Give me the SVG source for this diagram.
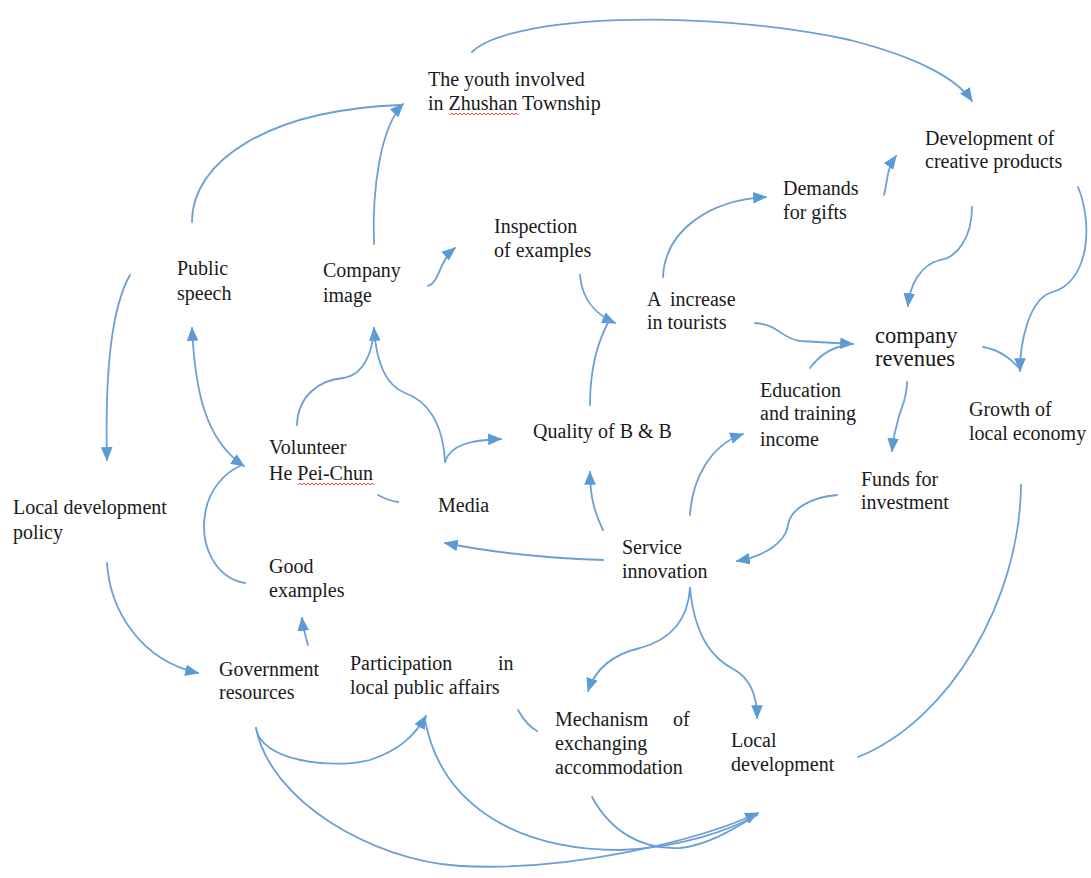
<svg xmlns="http://www.w3.org/2000/svg" width="1091" height="878" viewBox="0 0 1091 878">
  <style>
    .lbl { font-family: "Liberation Serif", "Times New Roman", serif; font-size: 20px; fill: #1a1a1a; }
    .big { font-size: 22.5px; }
    .edge { fill: none; stroke: #6b9fd6; stroke-width: 1.8; stroke-linecap: round; }
    .arr { marker-end: url(#ah); }
    .squig { fill: none; stroke: #e03030; stroke-width: 0.9; }
  </style>
  <defs>
    <marker id="ah" viewBox="0 0 12 10" refX="11" refY="5" markerWidth="14" markerHeight="12" markerUnits="userSpaceOnUse" orient="auto-start-reverse">
      <path d="M0,0 L12,5 L0,10 z" fill="#5b9bd5"/>
    </marker>
  </defs>
  <rect width="1091" height="878" fill="#ffffff"/>

  <!-- connectors -->
  <g id="connectors">
    <!-- top row -->
    <path class="edge" d="M192,222 C192,160 270,110 400,105"/>
    <path class="edge arr" d="M374,244 C372,190 380,128 403,104"/>
    <path class="edge arr" d="M472,52 C510,15 700,8 850,40 C920,58 958,80 972,101"/>
    <path class="edge arr" d="M884,195 C888,180 886,170 896,156"/>
    <path class="edge arr" d="M663,277 C665,230 710,200 766,197"/>
    <path class="edge arr" d="M580,275 C582,300 595,314 615,323"/>
    <path class="edge" d="M590,405 C590,370 598,340 610,319"/>
    <path class="edge arr" d="M428,286 C440,282 438,262 455,248"/>
    <!-- revenues cluster -->
    <path class="edge arr" d="M755,323 C780,325 780,338 800,341 L853,344"/>
    <path class="edge" d="M810,368 C820,355 830,348 850,344"/>
    <path class="edge arr" d="M972,207 C972,240 955,258 940,260 C920,265 910,285 908,306"/>
    <path class="edge arr" d="M1078,187 C1092,220 1092,282 1050,293 C1030,300 1020,340 1020,371"/>
    <path class="edge" d="M983,347 C1000,350 1012,360 1019,368"/>
    <path class="edge arr" d="M907,382 C907,400 900,410 898,420 C895,430 893,440 892,451"/>
    <path class="edge" d="M1021,485 C1020,600 950,720 858,757"/>
    <path class="edge arr" d="M837,495 C810,497 790,510 788,525 C785,545 760,557 737,561"/>
    <path class="edge arr" d="M690,515 C692,480 710,445 743,434"/>
    <!-- service innovation -->
    <path class="edge arr" d="M603,530 C596,515 590,500 590,472"/>
    <path class="edge arr" d="M603,560 C540,558 490,552 445,543"/>
    <path class="edge arr" d="M445,462 C450,445 470,440 501,439"/>
    <path class="edge arr" d="M445,462 C443,420 425,400 405,393 C385,385 376,360 374,328"/>
    <path class="edge" d="M297,425 C298,395 320,380 343,378 C365,375 372,350 374,332"/>
    <path class="edge arr" style="marker-start:url(#ah)" d="M192,328 C195,390 205,440 244,466"/>
    <path class="edge" d="M245,583 C215,578 200,545 205,515 C208,490 225,472 242,465"/>
    <path class="edge" d="M378,495 C385,499 391,501 398,502"/>
    <!-- left side -->
    <path class="edge arr" d="M130,275 C110,310 105,380 107,460"/>
    <path class="edge arr" d="M107,563 C110,610 140,660 198,673"/>
    <path class="edge arr" d="M308,645 C305,635 303,628 302,618"/>
    <!-- bottom -->
    <path class="edge arr" d="M256,728 C260,760 330,770 370,760 C400,750 415,735 426,716"/>
    <path class="edge arr" d="M256,728 C270,800 370,860 460,866 C570,872 700,840 758,813"/>
    <path class="edge" d="M425,720 C440,800 510,850 620,850 C680,848 730,830 757,815"/>
    <path class="edge" d="M592,797 C610,830 640,850 680,848 C710,845 740,825 757,815"/>
    <path class="edge" d="M518,710 C523,719 528,726 537,731"/>
    <path class="edge arr" d="M690,588 C688,620 670,640 640,648 C610,655 595,670 588,691"/>
    <path class="edge arr" d="M690,588 C695,640 715,660 735,670 C752,680 757,700 757,718"/>
  </g>

  <!-- nodes -->
  <g id="youth">
    <text class="lbl" x="428" y="86">The youth involved</text>
    <text class="lbl" x="428" y="110">in Zhushan Township</text>
    <path class="squig" d="M450,115 l2,-2 l2,2 l2,-2 l2,2 l2,-2 l2,2 l2,-2 l2,2 l2,-2 l2,2 l2,-2 l2,2 l2,-2 l2,2 l2,-2 l2,2 l2,-2 l2,2 l2,-2 l2,2 l2,-2 l2,2 l2,-2 l2,2 l2,-2 l2,2 l2,-2 l2,2 l2,-2 l2,2 l2,-2 l2,2 l2,-2 l2,2"/>
  </g>
  <g id="creative">
    <text class="lbl" x="925" y="145">Development of</text>
    <text class="lbl" x="925" y="168">creative products</text>
  </g>
  <g id="gifts">
    <text class="lbl" x="783" y="195">Demands</text>
    <text class="lbl" x="783" y="219">for gifts</text>
  </g>
  <g id="inspection">
    <text class="lbl" x="494" y="233">Inspection</text>
    <text class="lbl" x="494" y="257">of examples</text>
  </g>
  <g id="speech">
    <text class="lbl" x="177" y="275">Public</text>
    <text class="lbl" x="177" y="300">speech</text>
  </g>
  <g id="image">
    <text class="lbl" x="323" y="277">Company</text>
    <text class="lbl" x="323" y="302">image</text>
  </g>
  <g id="tourists">
    <text class="lbl" x="647" y="306">A<tspan x="670">increase</tspan></text>
    <text class="lbl" x="647" y="329">in tourists</text>
  </g>
  <g id="revenues">
    <text class="lbl big" x="875" y="343">company</text>
    <text class="lbl big" x="875" y="366">revenues</text>
  </g>
  <g id="education">
    <text class="lbl" x="760" y="397">Education</text>
    <text class="lbl" x="760" y="420">and training</text>
    <text class="lbl" x="760" y="446">income</text>
  </g>
  <g id="growth">
    <text class="lbl" x="969" y="416">Growth of</text>
    <text class="lbl" x="969" y="440">local economy</text>
  </g>
  <g id="volunteer">
    <text class="lbl" x="269" y="454">Volunteer</text>
    <text class="lbl" x="269" y="480">He Pei-Chun</text>
    <path class="squig" d="M298,485 l2,-2 l2,2 l2,-2 l2,2 l2,-2 l2,2 l2,-2 l2,2 l2,-2 l2,2 l2,-2 l2,2 l2,-2 l2,2 l2,-2 l2,2 l2,-2 l2,2 l2,-2 l2,2 l2,-2 l2,2 l2,-2 l2,2 l2,-2 l2,2 l2,-2 l2,2 l2,-2 l2,2 l2,-2 l2,2 l2,-2 l2,2 l2,-2 l2,2 l2,-2 l2,2"/>
  </g>
  <g id="quality">
    <text class="lbl" x="533" y="438">Quality of B &amp; B</text>
  </g>
  <g id="funds">
    <text class="lbl" x="861" y="486">Funds for</text>
    <text class="lbl" x="861" y="509">investment</text>
  </g>
  <g id="policy">
    <text class="lbl" x="13" y="514">Local development</text>
    <text class="lbl" x="13" y="539">policy</text>
  </g>
  <g id="media">
    <text class="lbl" x="438" y="512">Media</text>
  </g>
  <g id="service">
    <text class="lbl" x="622" y="554">Service</text>
    <text class="lbl" x="622" y="578">innovation</text>
  </g>
  <g id="good">
    <text class="lbl" x="269" y="573">Good</text>
    <text class="lbl" x="269" y="597">examples</text>
  </g>
  <g id="government">
    <text class="lbl" x="219" y="676">Government</text>
    <text class="lbl" x="219" y="699">resources</text>
  </g>
  <g id="participation">
    <text class="lbl" x="350" y="670">Participation<tspan x="498">in</tspan></text>
    <text class="lbl" x="350" y="694">local public affairs</text>
  </g>
  <g id="mechanism">
    <text class="lbl" x="555" y="726">Mechanism<tspan x="673">of</tspan></text>
    <text class="lbl" x="555" y="750">exchanging</text>
    <text class="lbl" x="555" y="774">accommodation</text>
  </g>
  <g id="localdev">
    <text class="lbl" x="731" y="747">Local</text>
    <text class="lbl" x="731" y="771">development</text>
  </g>
</svg>
